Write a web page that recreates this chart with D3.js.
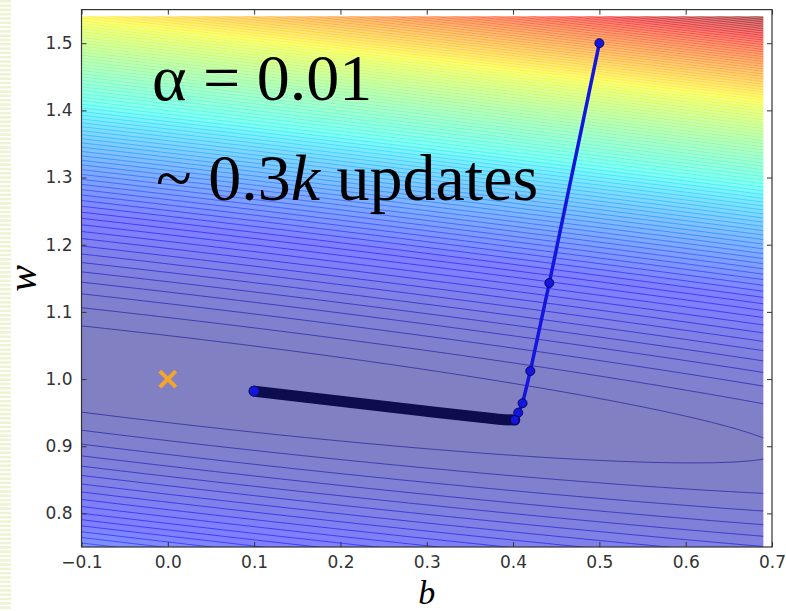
<!DOCTYPE html>
<html>
<head>
<meta charset="utf-8">
<script src="https://cdn.jsdelivr.net/npm/d3@7"></script>
<style>
body{margin:0;background:#fff;}
svg{display:block;}
</style>
</head>
<body>
<div id="chart-area"></div>
<script>
// gradient descent iterates (b, w): the big first steps...
var stepB = [0.500, 0.442, 0.420, 0.411, 0.406, 0.402];
var stepW = [1.500, 1.143, 1.012, 0.964, 0.950, 0.939];
// ...then the slow crawl along the valley (markers overlap into one dark band)
var crawlB = [0.402, 0.390, 0.365, 0.300, 0.200, 0.100];
var crawlW = [0.939, 0.9395, 0.9428, 0.952, 0.967, 0.982];
// true parameters (orange x)
var trueB = [0.0], trueW = [1.0];

var xTicks = [-0.1, 0.0, 0.1, 0.2, 0.3, 0.4, 0.5, 0.6, 0.7];
var yTicks = [0.8, 0.9, 1.0, 1.1, 1.2, 1.3, 1.4, 1.5];

// loss surface: quadratic bowl around the true parameters
var lossA = 0.0308, lossC = 0.15, lossD = 1.0;
var levelStep = 0.0042, nLevels = 100;

var width = 786, height = 611;
var svg = d3.select("#chart-area").append("svg")
  .attr("width", width).attr("height", height);

// slide edge stripes on the far left
var defs = svg.append("defs");
var pat = defs.append("pattern").attr("id", "stripes")
  .attr("patternUnits", "userSpaceOnUse").attr("width", 12).attr("height", 4.3);
pat.append("rect").attr("width", 12).attr("height", 2.6).attr("fill", "#eef3d4");
svg.append("rect").attr("x", 0).attr("y", 0).attr("width", 11).attr("height", height)
  .attr("fill", "url(#stripes)");

// soften like the jpeg source
defs.append("filter").attr("id", "soft")
  .attr("x", "-2%").attr("y", "-2%").attr("width", "104%").attr("height", "104%")
  .append("feGaussianBlur").attr("stdDeviation", 0.6);

var x = d3.scaleLinear().domain([-0.1, 0.7]).range([81.5, 772]);
var y = d3.scaleLinear().domain([0.75, 1.55]).range([547, 9.6]);

// the image only covers b<=0.69, w<=1.54
defs.append("clipPath").attr("id", "img-clip").append("rect")
  .attr("x", x(-0.1)).attr("y", y(1.54))
  .attr("width", x(0.69) - x(-0.1)).attr("height", y(0.75) - y(1.54));

// jet colormap
var jetR = d3.scaleLinear().domain([0, 0.35, 0.66, 0.89, 1]).range([0, 0, 1, 1, 0.5]).clamp(true);
var jetG = d3.scaleLinear().domain([0, 0.125, 0.375, 0.64, 0.91, 1]).range([0, 0, 1, 1, 0, 0]).clamp(true);
var jetB = d3.scaleLinear().domain([0, 0.11, 0.34, 0.65, 1]).range([0.5, 1, 1, 0, 0]).clamp(true);
function jet(t, alpha) {
  var a = alpha == null ? 1 : alpha;
  var f = function(v){ return Math.round(255 * (v * a + (1 - a))); };
  return d3.rgb(f(jetR(t)), f(jetG(t)), f(jetB(t))).toString();
}

function loss(b, w) {
  var db = b - trueB[0], dw = w - trueW[0];
  return lossA * db * db + 2 * lossC * db * dw + lossD * dw * dw;
}

// sample grid a little larger than the visible image
var bMin = -0.15, wMin = 0.70, n = 360, m = 360;
var gStepB = (0.75 - bMin) / (n - 1), gStepW = (1.60 - wMin) / (m - 1);
var values = new Float64Array(n * m);
for (var j = 0; j < m; j++) {
  for (var i = 0; i < n; i++) {
    values[i + j * n] = loss(bMin + i * gStepB, wMin + j * gStepW);
  }
}
var levels = d3.range(nLevels + 1).map(function(k){ return k * levelStep; });
var lMax = levels[levels.length - 1];
var contours = d3.contours().size([n, m]).thresholds(levels)(values);

var proj = d3.geoTransform({
  point: function(gx, gy) {
    this.stream.point(x(bMin + (gx - 0.5) * gStepB), y(wMin + (gy - 0.5) * gStepW));
  }
});
var path = d3.geoPath(proj);

var plot = svg.append("g").attr("clip-path", "url(#img-clip)")
  .append("g").attr("filter", "url(#soft)");
plot.selectAll("path.band").data(contours).enter().append("path")
  .attr("class", "band")
  .attr("d", path)
  .attr("fill", function(d, k){
    var next = k + 1 < levels.length ? levels[k + 1] : lMax;
    return jet(((d.value + next) / 2) / lMax, 0.5);
  })
  .attr("stroke", "none");
plot.selectAll("path.line").data(contours.slice(1)).enter().append("path")
  .attr("class", "line")
  .attr("d", path)
  .attr("fill", "none")
  .attr("stroke", function(d){ return jet(d.value / lMax, 1); })
  .attr("stroke-width", 0.9)
  .attr("stroke-opacity", 0.6);

// frame + inward ticks on all four sides
var axes = svg.append("g").attr("class", "axes");
axes.append("g").attr("transform", "translate(0," + y(0.75) + ")")
  .call(d3.axisBottom(x).tickValues(xTicks).tickSize(-5).tickPadding(9)
    .tickFormat(function(d){ return d3.format(".1f")(d).replace("-", "\u2212"); }));
axes.append("g").attr("transform", "translate(0," + y(1.55) + ")")
  .call(d3.axisTop(x).tickValues(xTicks).tickSize(-5).tickFormat(""));
axes.append("g").attr("transform", "translate(" + x(-0.1) + ",0)")
  .call(d3.axisLeft(y).tickValues(yTicks).tickSize(-5).tickPadding(9).tickFormat(d3.format(".1f")));
axes.append("g").attr("transform", "translate(" + x(0.7) + ",0)")
  .call(d3.axisRight(y).tickValues(yTicks).tickSize(-5).tickFormat(""));
axes.selectAll(".domain").remove();
axes.selectAll(".tick line").attr("stroke", "#333");
axes.selectAll(".tick text").attr("fill", "#333")
  .style("font-family", "DejaVu Sans").style("font-size", "17px");
axes.append("rect").attr("x", x(-0.1)).attr("y", y(1.55))
  .attr("width", x(0.7) - x(-0.1)).attr("height", y(0.75) - y(1.55))
  .attr("fill", "none").attr("stroke", "#333").attr("stroke-width", 1.2);

// axis labels
svg.append("text").attr("x", (x(-0.1) + x(0.7)) / 2).attr("y", 603.5)
  .attr("text-anchor", "middle")
  .style("font-family", "Liberation Serif").style("font-style", "italic").style("font-size", "34px")
  .text("b");
svg.append("text").attr("transform", "translate(36," + (y(0.75) + y(1.55)) / 2 + ") rotate(-90)")
  .attr("text-anchor", "middle")
  .style("font-family", "Liberation Serif").style("font-style", "italic").style("font-size", "40px")
  .text("w");

// descent path
var line = d3.line().x(function(d){ return x(d[0]); }).y(function(d){ return y(d[1]); });
var steps = stepB.map(function(b, k){ return [b, stepW[k]]; });
var crawl = crawlB.map(function(b, k){ return [b, crawlW[k]]; });
svg.append("path").attr("d", line(steps))
  .attr("fill", "none").attr("stroke", "#1515e0").attr("stroke-width", 3.5);
svg.append("path").attr("d", d3.line().curve(d3.curveMonotoneX)
    .x(function(d){ return x(d[0]); }).y(function(d){ return y(d[1]); })(crawl.slice().reverse()))
  .attr("fill", "none").attr("stroke", "#0c0c4e").attr("stroke-width", 11)
  .attr("stroke-linecap", "round").attr("stroke-linejoin", "round");
svg.selectAll("circle.step").data(steps).enter().append("circle")
  .attr("class", "step")
  .attr("cx", function(d){ return x(d[0]); })
  .attr("cy", function(d){ return y(d[1]); })
  .attr("r", 4.5)
  .attr("fill", "#1515e0").attr("stroke", "#08085a").attr("stroke-width", 1);
svg.append("circle").attr("cx", x(crawlB[crawlB.length - 1])).attr("cy", y(crawlW[crawlW.length - 1]))
  .attr("r", 5).attr("fill", "#1515e0").attr("stroke", "#10106a").attr("stroke-width", 1);

// true parameters
var tx = x(trueB[0]), ty = y(trueW[0]), s = 8;
svg.append("path")
  .attr("d", "M" + (tx - s) + "," + (ty - s) + "L" + (tx + s) + "," + (ty + s) +
             "M" + (tx - s) + "," + (ty + s) + "L" + (tx + s) + "," + (ty - s))
  .attr("stroke", "#f5a52c").attr("stroke-width", 4).attr("fill", "none");

// annotations
var note = svg.append("g").style("font-family", "Liberation Serif").style("font-size", "66px").attr("fill", "#000");
note.append("text").attr("x", 152).attr("y", 100).text("\u03b1 = 0.01");
var t2 = note.append("text").attr("x", 156).attr("y", 200);
t2.append("tspan").text("~ 0.3");
t2.append("tspan").style("font-style", "italic").text("k");
t2.append("tspan").text(" updates");
</script>
</body>
</html>
